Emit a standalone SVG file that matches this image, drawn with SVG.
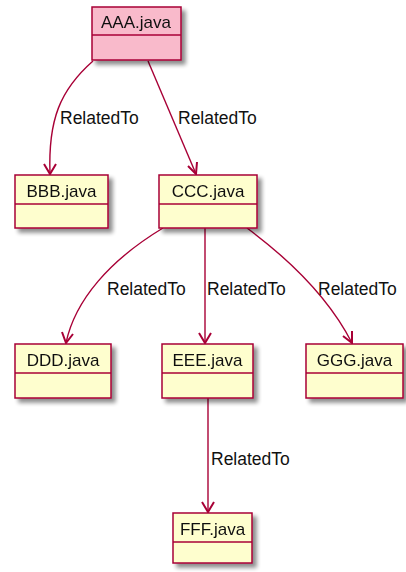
<svg xmlns="http://www.w3.org/2000/svg" width="406" height="572" viewBox="0 0 406 572">
  <defs>
    <filter id="shadow" x="-20%" y="-20%" width="150%" height="150%">
      <feGaussianBlur in="SourceAlpha" stdDeviation="2"/>
      <feOffset dx="4" dy="4" result="b"/>
      <feComponentTransfer><feFuncA type="linear" slope="0.45"/></feComponentTransfer>
      <feMerge><feMergeNode/><feMergeNode in="SourceGraphic"/></feMerge>
    </filter>
  </defs>
  <style>
    .box { fill: #FEFECE; stroke: #A80036; stroke-width: 1.5; }
    .hl { fill: #F9BACB; }
    .div { stroke: #A80036; stroke-width: 1.5; }
    .name { font-family: "Liberation Sans", Arial, sans-serif; font-size: 17px; fill: #111; text-anchor: middle; }
    .edge { fill: none; stroke: #A80036; stroke-width: 1.4; }
    .head { fill: none; stroke: #A80036; stroke-width: 2; stroke-linejoin: miter; }
    .lbl { font-family: "Liberation Sans", Arial, sans-serif; font-size: 17.5px; fill: #111; }
  </style>
  <rect width="406" height="572" fill="#FFFFFF"/>

  <!-- connectors -->
  <g id="edges">
    <path class="edge" d="M93,61 C60,90 48,120 50,174"/>
    <polyline class="head" points="44,164 50,174 56,164"/>
    <text class="lbl" x="60" y="124">RelatedTo</text>

    <path class="edge" d="M148,61 L196,174"/>
    <polyline class="head" points="188,166 196,174 197,162"/>
    <text class="lbl" x="178" y="124">RelatedTo</text>

    <path class="edge" d="M163,228 C110,260 75,300 66,343"/>
    <polyline class="head" points="62,332 66,343 73,334"/>
    <text class="lbl" x="107" y="295">RelatedTo</text>

    <path class="edge" d="M205,228 L205,343"/>
    <polyline class="head" points="199,333 205,343 211,333"/>
    <text class="lbl" x="207" y="295">RelatedTo</text>

    <path class="edge" d="M247,228 C290,260 330,300 352,343"/>
    <polyline class="head" points="343,336 352,343 352,331"/>
    <text class="lbl" x="318" y="295">RelatedTo</text>

    <path class="edge" d="M208,398 L208,512"/>
    <polyline class="head" points="202,502 208,512 214,502"/>
    <text class="lbl" x="211" y="465">RelatedTo</text>
  </g>

  <!-- classes -->
  <g id="AAA" filter="url(#shadow)">
    <rect class="box hl" x="92" y="7" width="89" height="53"/>
    <line class="div" x1="92" y1="35" x2="181" y2="35"/>
    <text class="name" x="136" y="28">AAA.java</text>
  </g>
  <g id="BBB" filter="url(#shadow)">
    <rect class="box" x="15" y="175" width="93" height="53"/>
    <line class="div" x1="15" y1="204" x2="108" y2="204"/>
    <text class="name" x="61.5" y="197">BBB.java</text>
  </g>
  <g id="CCC" filter="url(#shadow)">
    <rect class="box" x="159" y="175" width="98" height="53"/>
    <line class="div" x1="159" y1="204" x2="257" y2="204"/>
    <text class="name" x="208" y="197">CCC.java</text>
  </g>
  <g id="DDD" filter="url(#shadow)">
    <rect class="box" x="15" y="344" width="96" height="54"/>
    <line class="div" x1="15" y1="373" x2="111" y2="373"/>
    <text class="name" x="63" y="366">DDD.java</text>
  </g>
  <g id="EEE" filter="url(#shadow)">
    <rect class="box" x="162" y="344" width="91" height="54"/>
    <line class="div" x1="162" y1="373" x2="253" y2="373"/>
    <text class="name" x="207.5" y="366">EEE.java</text>
  </g>
  <g id="GGG" filter="url(#shadow)">
    <rect class="box" x="306" y="344" width="97" height="54"/>
    <line class="div" x1="306" y1="373" x2="403" y2="373"/>
    <text class="name" x="354.5" y="366">GGG.java</text>
  </g>
  <g id="FFF" filter="url(#shadow)">
    <rect class="box" x="173" y="513" width="79" height="50"/>
    <line class="div" x1="173" y1="542" x2="252" y2="542"/>
    <text class="name" x="212.5" y="535">FFF.java</text>
  </g>
</svg>
